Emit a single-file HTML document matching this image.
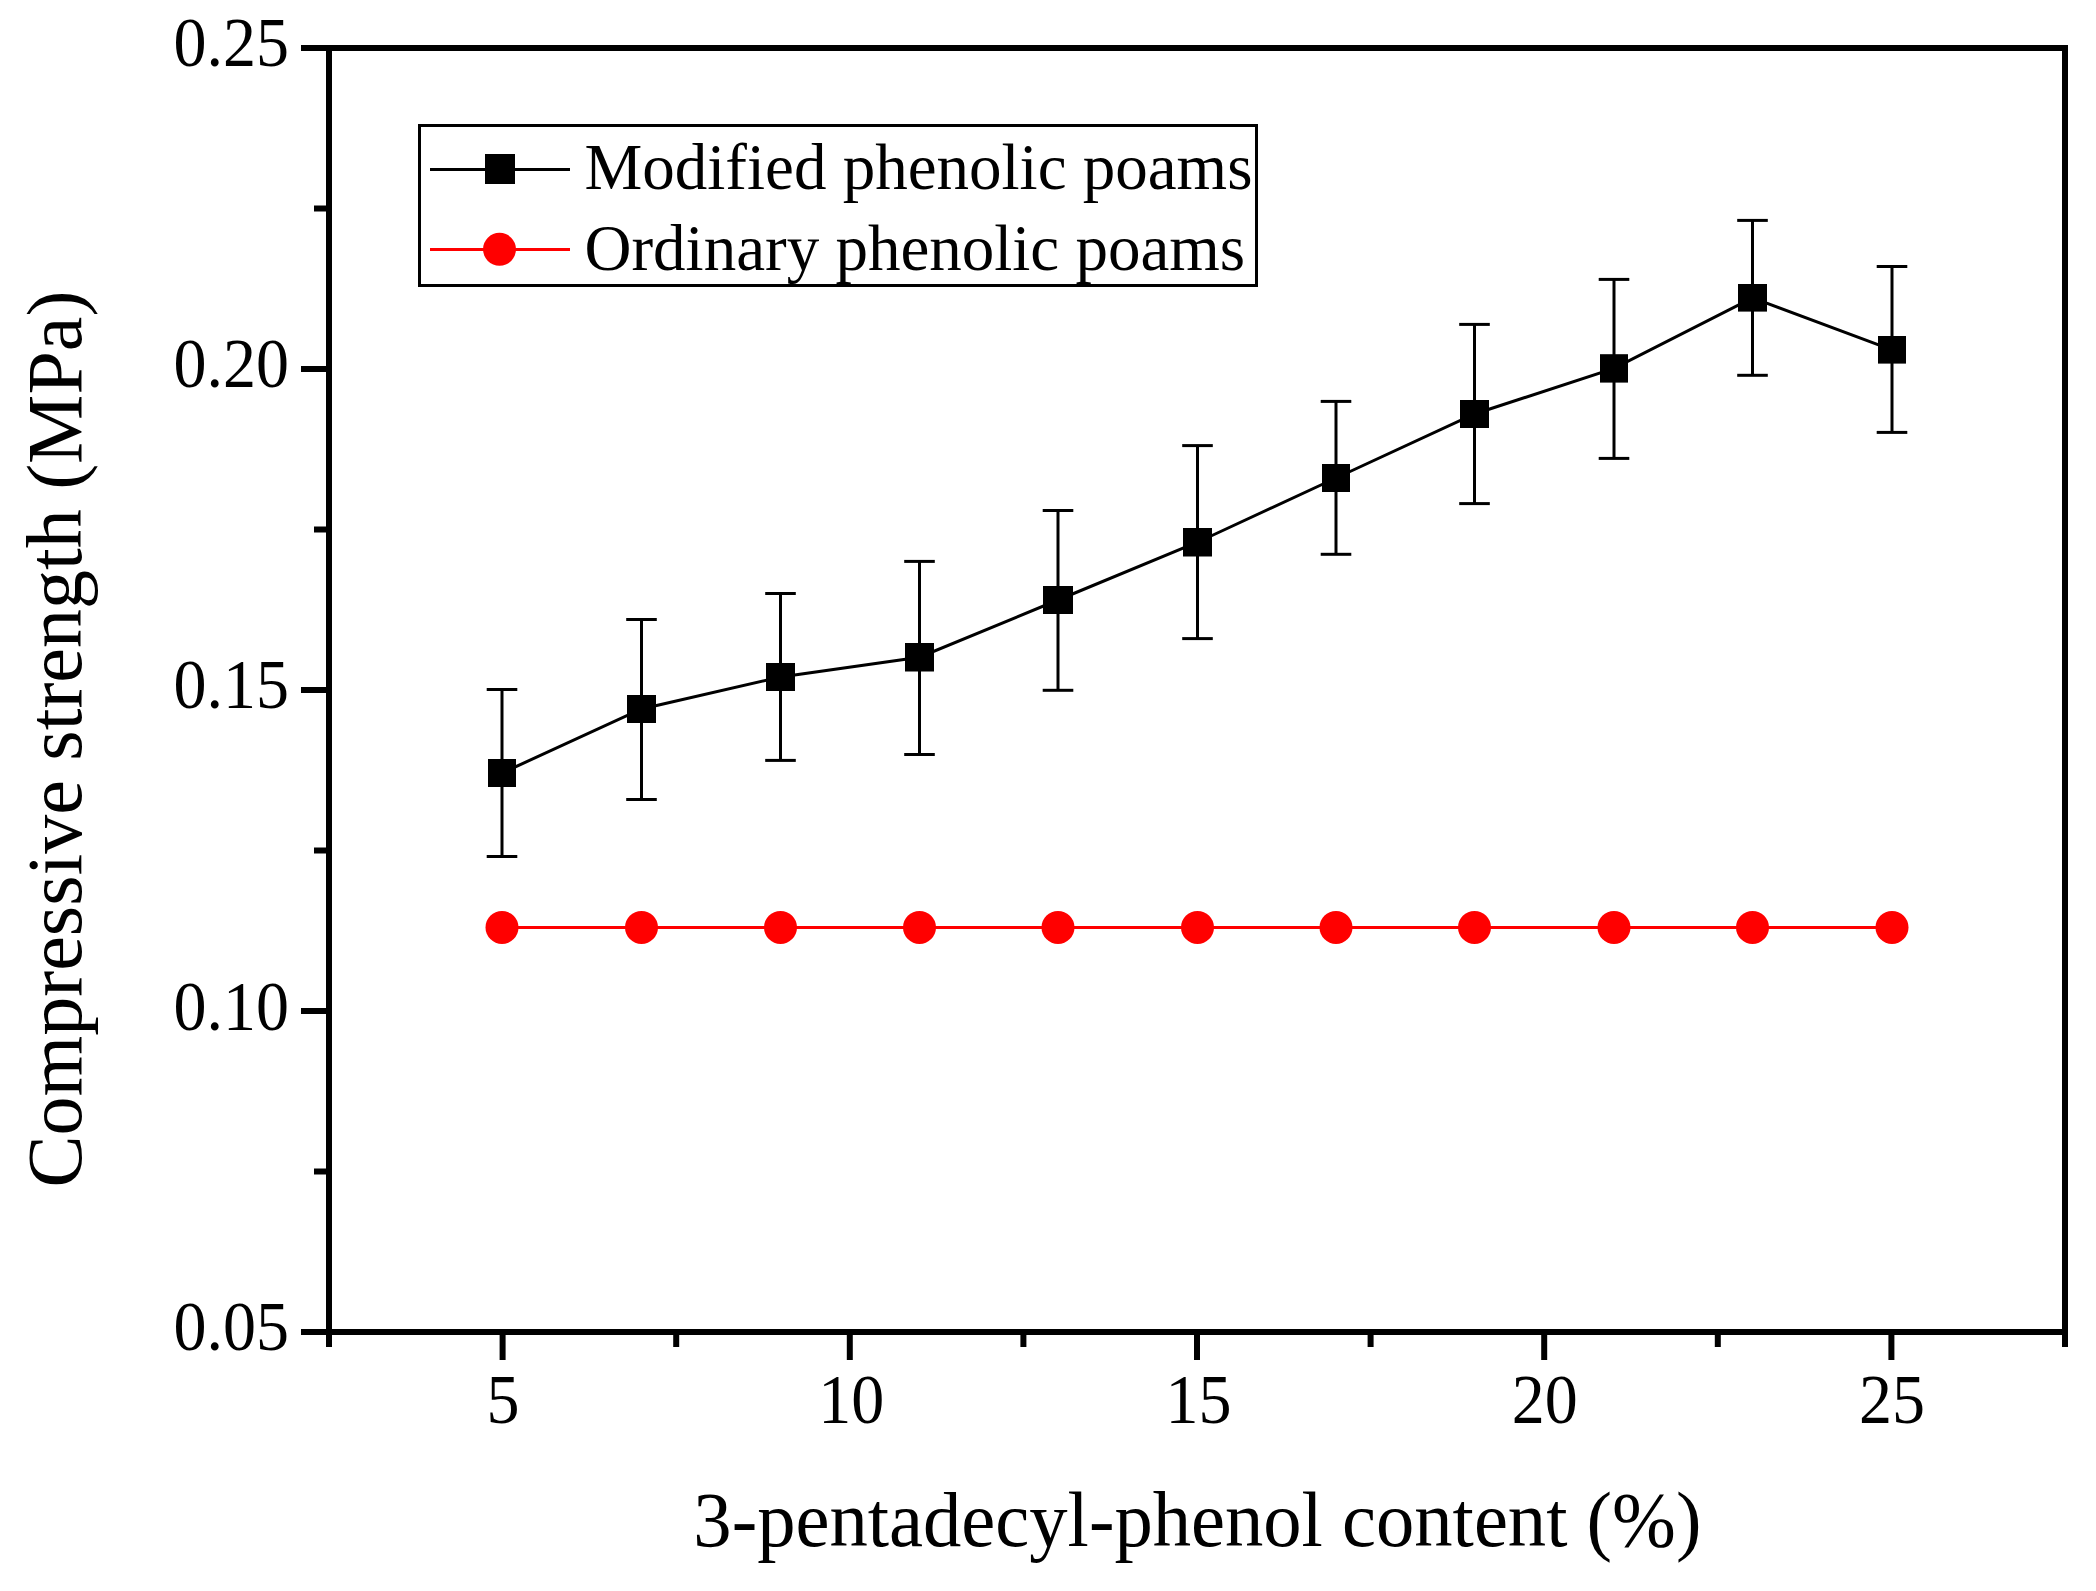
<!DOCTYPE html>
<html><head><meta charset="utf-8"><title>Compressive strength</title>
<style>
html,body{margin:0;padding:0;background:#fff;}
svg{display:block;}
text{font-family:"Liberation Serif", "Times New Roman", serif;fill:#000;}
</style></head><body>
<svg width="2096" height="1591" viewBox="0 0 2096 1591">
<rect x="0" y="0" width="2096" height="1591" fill="#fff"/>

<rect x="329" y="48" width="1736" height="1284" fill="none" stroke="#000" stroke-width="6"/>
<line x1="301" y1="48.00" x2="329" y2="48.00" stroke="#000" stroke-width="6" stroke-linecap="butt"/>
<line x1="314" y1="208.50" x2="329" y2="208.50" stroke="#000" stroke-width="6" stroke-linecap="butt"/>
<line x1="301" y1="369.00" x2="329" y2="369.00" stroke="#000" stroke-width="6" stroke-linecap="butt"/>
<line x1="314" y1="529.50" x2="329" y2="529.50" stroke="#000" stroke-width="6" stroke-linecap="butt"/>
<line x1="301" y1="690.00" x2="329" y2="690.00" stroke="#000" stroke-width="6" stroke-linecap="butt"/>
<line x1="314" y1="850.50" x2="329" y2="850.50" stroke="#000" stroke-width="6" stroke-linecap="butt"/>
<line x1="301" y1="1011.00" x2="329" y2="1011.00" stroke="#000" stroke-width="6" stroke-linecap="butt"/>
<line x1="314" y1="1171.50" x2="329" y2="1171.50" stroke="#000" stroke-width="6" stroke-linecap="butt"/>
<line x1="301" y1="1332.00" x2="329" y2="1332.00" stroke="#000" stroke-width="6" stroke-linecap="butt"/>
<line x1="329.00" y1="1332" x2="329.00" y2="1347" stroke="#000" stroke-width="6" stroke-linecap="butt"/>
<line x1="502.60" y1="1332" x2="502.60" y2="1360" stroke="#000" stroke-width="6" stroke-linecap="butt"/>
<line x1="676.20" y1="1332" x2="676.20" y2="1347" stroke="#000" stroke-width="6" stroke-linecap="butt"/>
<line x1="849.80" y1="1332" x2="849.80" y2="1360" stroke="#000" stroke-width="6" stroke-linecap="butt"/>
<line x1="1023.40" y1="1332" x2="1023.40" y2="1347" stroke="#000" stroke-width="6" stroke-linecap="butt"/>
<line x1="1197.00" y1="1332" x2="1197.00" y2="1360" stroke="#000" stroke-width="6" stroke-linecap="butt"/>
<line x1="1370.60" y1="1332" x2="1370.60" y2="1347" stroke="#000" stroke-width="6" stroke-linecap="butt"/>
<line x1="1544.20" y1="1332" x2="1544.20" y2="1360" stroke="#000" stroke-width="6" stroke-linecap="butt"/>
<line x1="1717.80" y1="1332" x2="1717.80" y2="1347" stroke="#000" stroke-width="6" stroke-linecap="butt"/>
<line x1="1891.40" y1="1332" x2="1891.40" y2="1360" stroke="#000" stroke-width="6" stroke-linecap="butt"/>
<line x1="2065.00" y1="1332" x2="2065.00" y2="1347" stroke="#000" stroke-width="6" stroke-linecap="butt"/>
<text x="173.5" y="66.0" font-size="66" transform="translate(0,66.0) scale(1,1.06) translate(0,-66.0)">0.25</text>
<text x="173.5" y="387.0" font-size="66" transform="translate(0,387.0) scale(1,1.06) translate(0,-387.0)">0.20</text>
<text x="173.5" y="708.0" font-size="66" transform="translate(0,708.0) scale(1,1.06) translate(0,-708.0)">0.15</text>
<text x="173.5" y="1030.0" font-size="66" transform="translate(0,1030.0) scale(1,1.06) translate(0,-1030.0)">0.10</text>
<text x="173.5" y="1350.0" font-size="66" transform="translate(0,1350.0) scale(1,1.06) translate(0,-1350.0)">0.05</text>
<text x="503.1" y="1423.0" font-size="66" text-anchor="middle" transform="translate(0,1423.0) scale(1,1.05) translate(0,-1423.0)">5</text>
<text x="851.3" y="1423.0" font-size="66" text-anchor="middle" transform="translate(0,1423.0) scale(1,1.05) translate(0,-1423.0)">10</text>
<text x="1198.5" y="1423.0" font-size="66" text-anchor="middle" transform="translate(0,1423.0) scale(1,1.05) translate(0,-1423.0)">15</text>
<text x="1544.7" y="1423.0" font-size="66" text-anchor="middle" transform="translate(0,1423.0) scale(1,1.05) translate(0,-1423.0)">20</text>
<text x="1891.9" y="1423.0" font-size="66" text-anchor="middle" transform="translate(0,1423.0) scale(1,1.05) translate(0,-1423.0)">25</text>
<text x="1197.4" y="1546" font-size="76.6" text-anchor="middle" transform="translate(0,1546) scale(1,1.03) translate(0,-1546)">3-pentadecyl-phenol content (%)</text>
<text transform="translate(81,739) rotate(-90)" x="0" y="0" font-size="78" text-anchor="middle">Compressive strength (MPa)</text>
<line x1="502.0" y1="927.4" x2="1892.0" y2="927.4" stroke="#f00" stroke-width="3"/>
<circle cx="502.0" cy="927.4" r="16.5" fill="#f00"/>
<circle cx="641.5" cy="927.4" r="16.5" fill="#f00"/>
<circle cx="780.5" cy="927.4" r="16.5" fill="#f00"/>
<circle cx="919.5" cy="927.4" r="16.5" fill="#f00"/>
<circle cx="1058.0" cy="927.4" r="16.5" fill="#f00"/>
<circle cx="1197.5" cy="927.4" r="16.5" fill="#f00"/>
<circle cx="1336.0" cy="927.4" r="16.5" fill="#f00"/>
<circle cx="1474.5" cy="927.4" r="16.5" fill="#f00"/>
<circle cx="1614.0" cy="927.4" r="16.5" fill="#f00"/>
<circle cx="1752.5" cy="927.4" r="16.5" fill="#f00"/>
<circle cx="1892.0" cy="927.4" r="16.5" fill="#f00"/>
<polyline points="502.0,773.0 641.5,709.0 780.5,677.0 919.5,657.25 1058.0,600.0 1197.5,542.25 1336.0,478.0 1474.5,414.0 1614.0,368.4 1752.5,297.8 1892.0,349.8" fill="none" stroke="#000" stroke-width="3" stroke-linejoin="miter"/>
<line x1="502.0" y1="689.5" x2="502.0" y2="856.5" stroke="#000" stroke-width="3"/>
<line x1="486.7" y1="689.5" x2="517.3" y2="689.5" stroke="#000" stroke-width="3"/>
<line x1="486.7" y1="856.5" x2="517.3" y2="856.5" stroke="#000" stroke-width="3"/>
<rect x="488" y="759" width="28" height="28" fill="#000"/>
<line x1="641.5" y1="619.5" x2="641.5" y2="799.5" stroke="#000" stroke-width="3"/>
<line x1="626.2" y1="619.5" x2="656.8" y2="619.5" stroke="#000" stroke-width="3"/>
<line x1="626.2" y1="799.5" x2="656.8" y2="799.5" stroke="#000" stroke-width="3"/>
<rect x="627" y="695" width="29" height="28" fill="#000"/>
<line x1="780.5" y1="593.5" x2="780.5" y2="760.4" stroke="#000" stroke-width="3"/>
<line x1="765.2" y1="593.5" x2="795.8" y2="593.5" stroke="#000" stroke-width="3"/>
<line x1="765.2" y1="760.4" x2="795.8" y2="760.4" stroke="#000" stroke-width="3"/>
<rect x="766" y="663" width="29" height="28" fill="#000"/>
<line x1="919.5" y1="561.4" x2="919.5" y2="754.5" stroke="#000" stroke-width="3"/>
<line x1="904.2" y1="561.4" x2="934.8" y2="561.4" stroke="#000" stroke-width="3"/>
<line x1="904.2" y1="754.5" x2="934.8" y2="754.5" stroke="#000" stroke-width="3"/>
<rect x="905" y="643" width="29" height="28.5" fill="#000"/>
<line x1="1058.0" y1="510.5" x2="1058.0" y2="690.3" stroke="#000" stroke-width="3"/>
<line x1="1042.7" y1="510.5" x2="1073.3" y2="510.5" stroke="#000" stroke-width="3"/>
<line x1="1042.7" y1="690.3" x2="1073.3" y2="690.3" stroke="#000" stroke-width="3"/>
<rect x="1043" y="586" width="30" height="28" fill="#000"/>
<line x1="1197.5" y1="445.6" x2="1197.5" y2="638.6" stroke="#000" stroke-width="3"/>
<line x1="1182.2" y1="445.6" x2="1212.8" y2="445.6" stroke="#000" stroke-width="3"/>
<line x1="1182.2" y1="638.6" x2="1212.8" y2="638.6" stroke="#000" stroke-width="3"/>
<rect x="1183" y="528" width="29" height="28.5" fill="#000"/>
<line x1="1336.0" y1="401.4" x2="1336.0" y2="554.3" stroke="#000" stroke-width="3"/>
<line x1="1320.7" y1="401.4" x2="1351.3" y2="401.4" stroke="#000" stroke-width="3"/>
<line x1="1320.7" y1="554.3" x2="1351.3" y2="554.3" stroke="#000" stroke-width="3"/>
<rect x="1322" y="464" width="28" height="28" fill="#000"/>
<line x1="1474.5" y1="324.4" x2="1474.5" y2="503.6" stroke="#000" stroke-width="3"/>
<line x1="1459.2" y1="324.4" x2="1489.8" y2="324.4" stroke="#000" stroke-width="3"/>
<line x1="1459.2" y1="503.6" x2="1489.8" y2="503.6" stroke="#000" stroke-width="3"/>
<rect x="1460" y="400" width="29" height="28" fill="#000"/>
<line x1="1614.0" y1="279.4" x2="1614.0" y2="458.4" stroke="#000" stroke-width="3"/>
<line x1="1598.7" y1="279.4" x2="1629.3" y2="279.4" stroke="#000" stroke-width="3"/>
<line x1="1598.7" y1="458.4" x2="1629.3" y2="458.4" stroke="#000" stroke-width="3"/>
<rect x="1600" y="354.2" width="28" height="28.400000000000034" fill="#000"/>
<line x1="1752.5" y1="220.4" x2="1752.5" y2="375.3" stroke="#000" stroke-width="3"/>
<line x1="1737.2" y1="220.4" x2="1767.8" y2="220.4" stroke="#000" stroke-width="3"/>
<line x1="1737.2" y1="375.3" x2="1767.8" y2="375.3" stroke="#000" stroke-width="3"/>
<rect x="1738" y="284" width="29" height="27.600000000000023" fill="#000"/>
<line x1="1892.0" y1="266.5" x2="1892.0" y2="432.4" stroke="#000" stroke-width="3"/>
<line x1="1876.7" y1="266.5" x2="1907.3" y2="266.5" stroke="#000" stroke-width="3"/>
<line x1="1876.7" y1="432.4" x2="1907.3" y2="432.4" stroke="#000" stroke-width="3"/>
<rect x="1878" y="336" width="28" height="27.600000000000023" fill="#000"/>
<rect x="419.5" y="125.5" width="837" height="160" fill="#fff" stroke="#000" stroke-width="3"/>
<line x1="430" y1="169.5" x2="570" y2="169.5" stroke="#000" stroke-width="3"/>
<rect x="485" y="154" width="30" height="30" fill="#000"/>
<line x1="430" y1="249.4" x2="570" y2="249.4" stroke="#f00" stroke-width="3"/>
<circle cx="499.5" cy="249.3" r="16.5" fill="#f00"/>
<text x="584.5" y="189" font-size="65">Modified phenolic poams</text>
<text x="584.5" y="270" font-size="65">Ordinary phenolic poams</text>
</svg>
</body></html>
